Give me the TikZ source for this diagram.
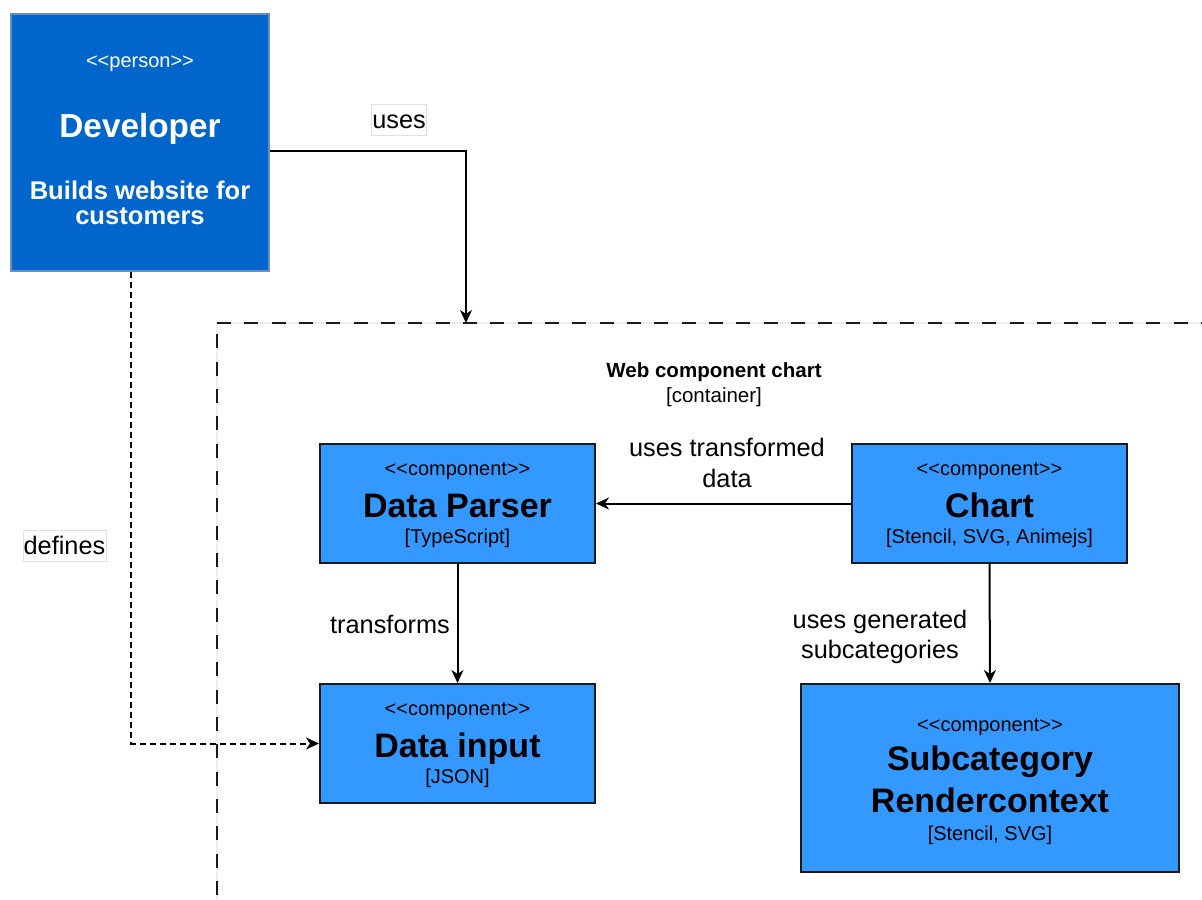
\documentclass[tikz,border=0pt]{standalone}
\usepackage{fontspec}
\setmainfont{Liberation Sans}
\usetikzlibrary{arrows.meta}
\definecolor{devblue}{HTML}{0066CC}
\definecolor{devborder}{HTML}{6C8EBF}
\definecolor{compblue}{HTML}{3399FF}
\definecolor{lineblack}{HTML}{1A1A1A}
\begin{document}
\begin{tikzpicture}[x=0.75pt,y=-0.75pt,
  devbox/.style={draw=devborder, line width=1.5pt, fill=devblue, inner sep=0pt},
  compbox/.style={draw=lineblack, line width=1.5pt, fill=compblue, inner sep=0pt},
  txt/.style={anchor=base, inner sep=0pt},
  ster/.style={txt, font=\fontsize{15}{18}\selectfont},
  ttl/.style={txt, font=\fontsize{25.5}{30}\selectfont\bfseries},
  tech/.style={txt, font=\fontsize{15}{18}\selectfont},
  lbl/.style={txt, font=\fontsize{19}{23}\selectfont},
  boxlbl/.style={lbl, draw=black!12, fill=white, line width=0.5pt, inner xsep=0.6pt, inner ysep=0pt, text height=17.5pt, text depth=5.25pt},
  conn/.style={line width=1.5pt, draw=black, -{Stealth[length=9.75pt,width=9pt,inset=3pt]}},
  dotconn/.style={conn, dash pattern=on 4.5pt off 3pt},
  contline/.style={line width=1.5pt, draw=lineblack, dash pattern=on 10.5pt off 10pt},
]
\useasboundingbox (0,0) rectangle (1202,899);

% container
\coordinate (ctl) at (217,323);
\coordinate (ctr) at (1202,323);
\coordinate (cbl) at (217,899);
\coordinate (usesend) at (466,323);
\draw[line width=1.5pt, draw=black!7] (ctr) -- (ctl) -- (cbl);
\draw[contline] (ctl) -- (ctr);
\draw[contline, dash phase=12pt] (ctl) -- (cbl);
\node[txt, font=\fontsize{15.4}{18}\selectfont\bfseries] (cname) at (714,377) {Web component chart};
\node[txt, font=\fontsize{15.4}{18}\selectfont] (ctype) at (714,402) {[container]};

% developer
\node[devbox, minimum width=258*0.75pt, minimum height=257*0.75pt] (dev) at (140,142.5) {};
\node[ster, text=white] (devs) at (140,68) {<{}<person>{}>};
\node[txt, text=white, font=\fontsize{25}{30}\selectfont\bfseries] (devt) at (140,137) {Developer};
\node[txt, text=white, font=\fontsize{19.2}{23}\selectfont\bfseries] (devd1) at (140,199) {Builds website for};
\node[txt, text=white, font=\fontsize{19.2}{23}\selectfont\bfseries] (devd2) at (140,224) {customers};

% components
\node[compbox, minimum width=275*0.75pt, minimum height=119*0.75pt] (parser) at (457.5,503.5) {};
\node[ster] (ps) at (457.5,475) {<{}<component>{}>};
\node[ttl] (pt) at (457.5,517) {Data Parser};
\node[tech] (pk) at (457.5,543) {[TypeScript]};

\node[compbox, minimum width=275*0.75pt, minimum height=119*0.75pt] (chart) at (989.5,503.5) {};
\node[ster] (cs) at (989.5,475) {<{}<component>{}>};
\node[ttl] (ct) at (989.5,517) {Chart};
\node[tech] (ck) at (989.5,543) {[Stencil, SVG, Animejs]};

\node[compbox, minimum width=275*0.75pt, minimum height=119*0.75pt] (input) at (457.5,743.5) {};
\node[ster] (is) at (457.5,715) {<{}<component>{}>};
\node[ttl] (it) at (457.5,757) {Data input};
\node[tech] (ik) at (457.5,783) {[JSON]};

\node[compbox, minimum width=378*0.75pt, minimum height=188*0.75pt] (sub) at (990,778) {};
\node[ster] (ss) at (990,731) {<{}<component>{}>};
\node[ttl] (st1) at (990,770) {Subcategory};
\node[ttl] (st2) at (990,812) {Rendercontext};
\node[tech] (sk) at (990,840) {[Stencil, SVG]};

% connectors
\draw[conn] ([yshift=-6.375pt]dev.east) -| (usesend);
\node[boxlbl] (luses) at (399,128) {uses};

\draw[dotconn] ([xshift=-6.75pt]dev.south) |- (input.west);
\node[boxlbl] (ldefines) at (64.5,554) {defines};

\draw[conn] (chart.west) -- (parser.east);
\node[lbl] (lut1) at (727,456) {uses transformed};
\node[lbl] (lut2) at (727,487) {data};

\draw[conn] (parser.south) -- (input.north);
\node[lbl] (ltr) at (390,633) {transforms};

\draw[conn] (chart.south) -- (sub.north);
\node[lbl] (lug1) at (880,628) {uses generated};
\node[lbl] (lug2) at (880,658) {subcategories};
\end{tikzpicture}
\end{document}
